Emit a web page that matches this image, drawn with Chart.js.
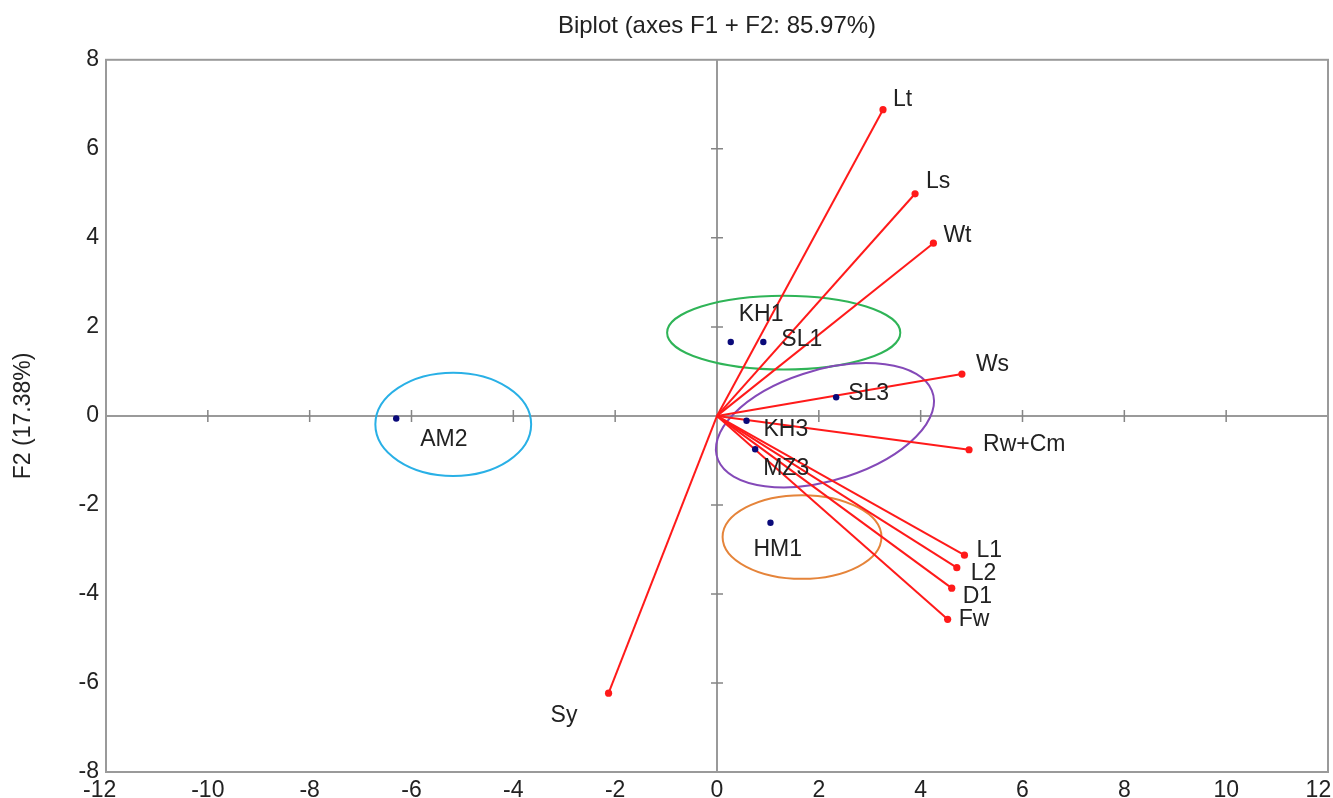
<!DOCTYPE html>
<html>
<head>
<meta charset="utf-8">
<script src="https://cdn.jsdelivr.net/npm/chart.js@4.4.1/dist/chart.umd.min.js"></script>
<style>
html,body{margin:0;padding:0;background:#ffffff;}
canvas{display:block;}
</style>
</head>
<body>
<canvas id="c" width="1333" height="798"></canvas>
<script>
// ---- data ----
const varNames = ['Lt', 'Ls', 'Wt', 'Ws', 'Rw+Cm', 'L1', 'L2', 'D1', 'Fw', 'Sy'];
const varF1    = [3.26, 3.89, 4.25, 4.81, 4.95, 4.86, 4.71, 4.61, 4.53, -2.13];
const varF2    = [6.88, 4.99, 3.88, 0.94, -0.76, -3.13, -3.41, -3.87, -4.57, -6.23];

const obsNames = ['KH1', 'SL1', 'SL3', 'KH3', 'MZ3', 'HM1', 'AM2'];
const obsF1    = [0.27, 0.91, 2.34, 0.58, 0.75, 1.05, -6.30];
const obsF2    = [1.66, 1.66, 0.42, -0.11, -0.75, -2.40, -0.06];

// group ellipses (data units): centre, semi-axes, rotation in degrees
const groupCenterF1 = [1.31, 2.12, 1.67, -5.18];
const groupCenterF2 = [1.87, -0.21, -2.72, -0.19];
const groupRadiusF1 = [2.29, 2.24, 1.56, 1.53];
const groupRadiusF2 = [0.83, 1.23, 0.94, 1.16];
const groupAngle    = [0, 20.5, 0, 0];

const xTicks = [-12, -10, -8, -6, -4, -2, 0, 2, 4, 6, 8, 10, 12];
const yTicks = [-8, -6, -4, -2, 0, 2, 4, 6, 8];

const chartTitle = 'Biplot (axes F1 + F2: 85.97%)';
const yTitle = 'F2 (17.38%)';

// ---- styles ----
const groupColors = ['#2fb457', '#8449b8', '#e5843a', '#29b0e6'];
const vecColor = '#ff1a1a';
const obsColor = '#0a0a7a';
const axisGray = '#9a9a9a';
const textColor = '#222222';
const FONT = "'Liberation Sans', Arial, Helvetica, sans-serif";

// label offsets in pixels (left edge, vertical centre) relative to the point
const labelOffsets = {
  'Lt': [10, -10], 'Ls': [11, -12], 'Wt': [10, -8], 'Ws': [14, -9],
  'Rw+Cm': [14, -5], 'L1': [12, -5], 'L2': [14, 6], 'D1': [11, 8],
  'Fw': [11, 0], 'Sy': [-58, 22],
  'KH1': [8, -27], 'SL1': [18, -2], 'SL3': [12, -4], 'KH3': [17, 9],
  'MZ3': [8, 19], 'HM1': [-17, 27], 'AM2': [24, 21]
};

// ---- datasets ----
const datasets = varNames.map((n, i) => ({
  label: n,
  data: [{x: 0, y: 0}, {x: varF1[i], y: varF2[i]}],
  showLine: true,
  borderColor: vecColor,
  borderWidth: 2,
  backgroundColor: vecColor,
  pointBackgroundColor: vecColor,
  pointBorderWidth: 0,
  pointRadius: [0, 3.6],
  pointStyle: 'circle',
  order: 2
}));
datasets.push({
  label: 'Observations',
  data: obsNames.map((n, i) => ({x: obsF1[i], y: obsF2[i]})),
  showLine: false,
  pointBackgroundColor: obsColor,
  backgroundColor: obsColor,
  pointBorderWidth: 0,
  pointRadius: 3.2,
  order: 1
});

const biplotDecor = {
  id: 'biplotDecor',
  beforeDatasetsDraw(chart) {
    const {ctx, scales: {x, y}} = chart;
    const x0 = x.getPixelForValue(0), y0 = y.getPixelForValue(0);
    ctx.save();
    // small cross ticks on the zero axes
    ctx.strokeStyle = '#858585';
    ctx.lineWidth = 1.5;
    ctx.beginPath();
    xTicks.forEach(v => {
      if (v !== 0 && v > x.min && v < x.max) {
        const p = x.getPixelForValue(v);
        ctx.moveTo(p, y0 - 6); ctx.lineTo(p, y0 + 6);
      }
    });
    yTicks.forEach(v => {
      if (v !== 0 && v > y.min && v < y.max) {
        const p = y.getPixelForValue(v);
        ctx.moveTo(x0 - 6, p); ctx.lineTo(x0 + 6, p);
      }
    });
    ctx.stroke();
    // group ellipses in data coordinates
    const sx = x.getPixelForValue(1) - x.getPixelForValue(0);
    const sy = y.getPixelForValue(0) - y.getPixelForValue(1);
    groupCenterF1.forEach((cx, i) => {
      ctx.save();
      ctx.translate(x.getPixelForValue(cx), y.getPixelForValue(groupCenterF2[i]));
      ctx.scale(sx, -sy);
      ctx.beginPath();
      ctx.ellipse(0, 0, groupRadiusF1[i], groupRadiusF2[i], groupAngle[i] * Math.PI / 180, 0, Math.PI * 2);
      ctx.restore();
      ctx.strokeStyle = groupColors[i];
      ctx.lineWidth = 2;
      ctx.stroke();
    });
    ctx.restore();
  },
  afterDatasetsDraw(chart) {
    const {ctx, chartArea: a} = chart;
    ctx.save();
    ctx.font = '23px ' + FONT;
    ctx.fillStyle = textColor;
    ctx.textAlign = 'left';
    ctx.textBaseline = 'middle';
    varNames.forEach((n, i) => {
      const el = chart.getDatasetMeta(i).data[1];
      const o = labelOffsets[n];
      ctx.fillText(n, el.x + o[0], el.y + o[1]);
    });
    const om = chart.getDatasetMeta(varNames.length);
    obsNames.forEach((n, i) => {
      const el = om.data[i];
      const o = labelOffsets[n];
      ctx.fillText(n, el.x + o[0], el.y + o[1]);
    });
    // plot frame
    ctx.strokeStyle = axisGray;
    ctx.lineWidth = 2;
    ctx.strokeRect(a.left, a.top, a.right - a.left, a.bottom - a.top);
    ctx.restore();
  }
};

new Chart(document.getElementById('c'), {
  type: 'scatter',
  data: {datasets},
  options: {
    responsive: false,
    animation: false,
    devicePixelRatio: 1,
    layout: {padding: {left: 0, right: 5, top: 0, bottom: 0}},
    plugins: {
      legend: {display: false},
      tooltip: {enabled: false},
      title: {
        display: true,
        fullSize: false,
        text: chartTitle,
        color: textColor,
        font: {family: FONT, size: 24, weight: 'normal'},
        padding: {top: 12, bottom: 19}
      }
    },
    scales: {
      x: {
        type: 'linear',
        min: -12, max: 12,
        afterBuildTicks: s => { s.ticks = xTicks.map(v => ({value: v})); },
        afterFit: s => { s.height = 26; s.paddingLeft = 0; s.paddingRight = 0; },
        ticks: {
          color: textColor,
          font: {family: FONT, size: 23},
          padding: 5,
          maxRotation: 0,
          autoSkip: false,
          callback: (v) => v === 12 ? '12   ' : (v === -12 ? '-12  ' : String(v))
        },
        grid: {
          drawTicks: false,
          lineWidth: 2,
          color: c => (c.tick && c.tick.value === 0) ? axisGray : 'rgba(0,0,0,0)'
        },
        border: {display: false}
      },
      y: {
        type: 'linear',
        min: -8, max: 8,
        afterBuildTicks: s => { s.ticks = yTicks.map(v => ({value: v})); },
        afterFit: s => { s.width = 106; },
        title: {
          display: true,
          text: yTitle,
          color: textColor,
          font: {family: FONT, size: 23},
          padding: {top: 10, bottom: 0}
        },
        ticks: {
          color: textColor,
          font: {family: FONT, size: 23},
          padding: 7,
          autoSkip: false,
          callback: v => String(v)
        },
        grid: {
          drawTicks: false,
          lineWidth: 2,
          color: c => (c.tick && c.tick.value === 0) ? axisGray : 'rgba(0,0,0,0)'
        },
        border: {display: false}
      }
    }
  },
  plugins: [biplotDecor]
});
</script>
</body>
</html>
